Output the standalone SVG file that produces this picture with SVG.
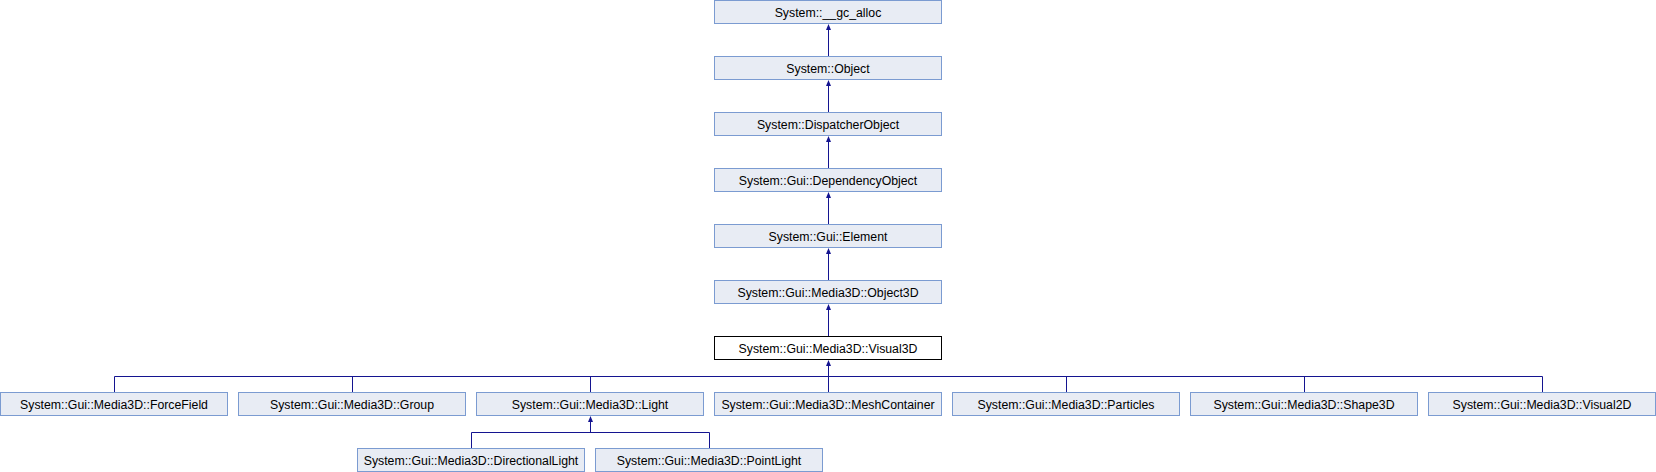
<svg xmlns="http://www.w3.org/2000/svg" width="1656" height="472" viewBox="0 0 1656 472">
<style>
.n rect{fill:#e8ecf4;stroke:#7b9bd1;stroke-width:1}
.n.cur rect{fill:#ffffff;stroke:#000000}
.n text{font-family:"Liberation Sans",Arial,sans-serif;font-size:12.3px;fill:#000;text-anchor:middle}
.e{stroke:#141490;stroke-width:1;fill:none}
.ah{fill:#141490}
</style>
<rect width="1656" height="472" fill="#fff"/>
<g id="edges">
<path class="e" d="M828.5,30 V56.5 M828.5,86 V112.5 M828.5,142 V168.5 M828.5,198 V224.5 M828.5,254 V280.5 M828.5,310 V336.5"/>
<path class="e" d="M828.5,366 V392.5 M114.5,392.5 V376.5 H1542.5 V392.5 M352.5,376.5 V392.5 M590.5,376.5 V392.5 M1066.5,376.5 V392.5 M1304.5,376.5 V392.5"/>
<path class="e" d="M590.5,422 V432.5 M471.5,448.5 V432.5 H709.5 V448.5"/>
<g class="ah">
<path d="M828.5,24 L831,30 L826,30 Z"/>
<path d="M828.5,80 L831,86 L826,86 Z"/>
<path d="M828.5,136 L831,142 L826,142 Z"/>
<path d="M828.5,192 L831,198 L826,198 Z"/>
<path d="M828.5,248 L831,254 L826,254 Z"/>
<path d="M828.5,304 L831,310 L826,310 Z"/>
<path d="M828.5,360 L831,366 L826,366 Z"/>
<path d="M590.5,416 L593,422 L588,422 Z"/>
</g>
</g>
<g id="n_gc" class="n"><rect x="714.5" y="0.5" width="227" height="23"/><text x="828" y="16.5">System::__gc_alloc</text></g>
<g id="n_obj" class="n"><rect x="714.5" y="56.5" width="227" height="23"/><text x="828" y="72.5">System::Object</text></g>
<g id="n_disp" class="n"><rect x="714.5" y="112.5" width="227" height="23"/><text x="828" y="128.5">System::DispatcherObject</text></g>
<g id="n_dep" class="n"><rect x="714.5" y="168.5" width="227" height="23"/><text x="828" y="184.5">System::Gui::DependencyObject</text></g>
<g id="n_elem" class="n"><rect x="714.5" y="224.5" width="227" height="23"/><text x="828" y="240.5">System::Gui::Element</text></g>
<g id="n_obj3d" class="n"><rect x="714.5" y="280.5" width="227" height="23"/><text x="828" y="296.5">System::Gui::Media3D::Object3D</text></g>
<g id="n_vis3d" class="n cur"><rect x="714.5" y="336.5" width="227" height="23"/><text x="828" y="352.5">System::Gui::Media3D::Visual3D</text></g>
<g id="n_ff" class="n"><rect x="0.5" y="392.5" width="227" height="23"/><text x="114" y="408.5">System::Gui::Media3D::ForceField</text></g>
<g id="n_grp" class="n"><rect x="238.5" y="392.5" width="227" height="23"/><text x="352" y="408.5">System::Gui::Media3D::Group</text></g>
<g id="n_light" class="n"><rect x="476.5" y="392.5" width="227" height="23"/><text x="590" y="408.5">System::Gui::Media3D::Light</text></g>
<g id="n_mesh" class="n"><rect x="714.5" y="392.5" width="227" height="23"/><text x="828" y="408.5">System::Gui::Media3D::MeshContainer</text></g>
<g id="n_part" class="n"><rect x="952.5" y="392.5" width="227" height="23"/><text x="1066" y="408.5">System::Gui::Media3D::Particles</text></g>
<g id="n_shape" class="n"><rect x="1190.5" y="392.5" width="227" height="23"/><text x="1304" y="408.5">System::Gui::Media3D::Shape3D</text></g>
<g id="n_vis2d" class="n"><rect x="1428.5" y="392.5" width="227" height="23"/><text x="1542" y="408.5">System::Gui::Media3D::Visual2D</text></g>
<g id="n_dir" class="n"><rect x="357.5" y="448.5" width="227" height="23"/><text x="471" y="464.5">System::Gui::Media3D::DirectionalLight</text></g>
<g id="n_pt" class="n"><rect x="595.5" y="448.5" width="227" height="23"/><text x="709" y="464.5">System::Gui::Media3D::PointLight</text></g>
</svg>
